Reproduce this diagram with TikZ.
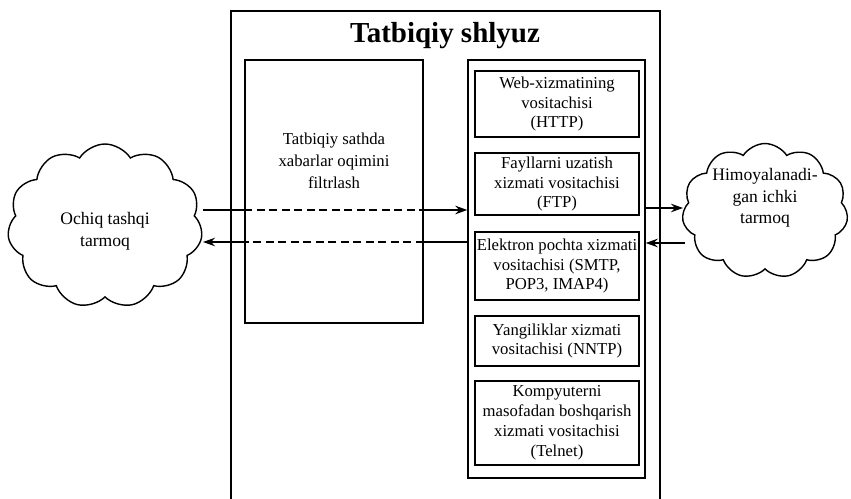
\documentclass[tikz,border=0pt]{standalone}
\usepackage{fontspec}
\setmainfont{Liberation Serif}
\usetikzlibrary{arrows.meta,shapes.symbols}

\tikzset{
  xizmat/.style={draw,line width=0.9pt,minimum width=3.28cm,align=center,inner sep=1pt,font=\fontsize{9.5}{11.3}\selectfont},
  blok/.style={draw,line width=0.8pt},
  matn/.style={align=center,font=\fontsize{9.5}{12.5}\selectfont},
  bulut/.style={cloud,draw,line width=0.8pt,cloud puffs=11,cloud puff arc=115,cloud ignores aspect,inner sep=0pt},
  bulutmatn/.style={align=center,font=\fontsize{10}{12.3}\selectfont},
  oqim/.style={line width=0.9pt},
  uzuk/.style={dash pattern=on 1.6mm off 0.9mm},
  uch/.style={-{Stealth[length=2.4mm,width=1.7mm]}}
}

\begin{document}
\begin{tikzpicture}[x=0.02cm,y=-0.02cm]
\useasboundingbox (0,0) rectangle (851,499);
% shlyuz ramkasi
\draw[line width=0.6pt] (231,499) -- (231,11) -- (660,11) -- (660,499);
\node[font=\fontsize{16.5}{20}\selectfont\bfseries] (sarlavha) at (445,36) {Tatbiqiy shlyuz};
% filtrlash bloki
\node[blok,minimum width=3.56cm,minimum height=5.26cm] (filtr) at (334,191.5) {};
\node[matn] (filtrmatn) at (334,161) {Tatbiqiy sathda\\xabarlar oqimini\\filtrlash};
% vositachilar
\node[blok,minimum width=3.54cm,minimum height=8.36cm] (proxy) at (556.5,269) {};
\node[xizmat,minimum height=1.32cm] (web) at (557,104) {Web-xizmatining\\vositachisi\\(HTTP)};
\node[xizmat,minimum height=1.24cm] (ftp) at (557,184) {Fayllarni uzatish\\xizmati vositachisi\\(FTP)};
\node[xizmat,minimum height=1.36cm] (pochta) at (557,266) {Elektron pochta xizmati\\vositachisi (SMTP,\\POP3, IMAP4)};
\node[xizmat,minimum height=1.0cm] (nntp) at (557,341) {Yangiliklar xizmati\\vositachisi (NNTP)};
\node[xizmat,minimum height=1.68cm] (telnet) at (557,423) {Kompyuterni\\masofadan boshqarish\\xizmati vositachisi\\(Telnet)};
% tarmoqlar
\node[bulut,minimum width=3.9cm,minimum height=3.28cm] (tashqi) at (105,226) {};
\node[bulutmatn] (tashqimatn) at (105,231) {Ochiq tashqi\\tarmoq};
\node[bulut,minimum width=3.32cm,minimum height=2.7cm] (ichki) at (765,211) {};
\node[bulutmatn] (ichkimatn) at (765,198) {Himoyalanadi-\\gan ichki\\tarmoq};
% oqimlar
\coordinate (k1) at (203,210);
\coordinate (k2) at (203,242);
\coordinate (k3) at (683,208);
\coordinate (k4) at (685,243);
\draw[oqim] (k1) -- (k1 -| filtr.west);
\draw[oqim,uzuk] (k1 -| filtr.west) -- (k1 -| filtr.east);
\draw[oqim,uch] (k1 -| filtr.east) -- (k1 -| proxy.west);
\draw[oqim] (k2 -| proxy.west) -- (k2 -| filtr.east);
\draw[oqim,uzuk] (k2 -| filtr.east) -- (k2 -| filtr.west);
\draw[oqim,uch] (k2 -| filtr.west) -- (k2);
\draw[oqim,uch] (k3 -| proxy.east) -- (k3);
\draw[oqim,uch] (k4) -- (k4 -| proxy.east);
\end{tikzpicture}
\end{document}
